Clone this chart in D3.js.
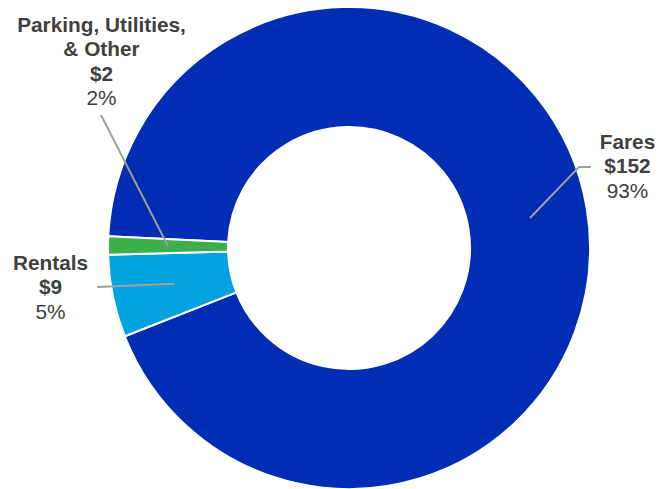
<!DOCTYPE html>
<html>
<head>
<meta charset="utf-8">
<script src="https://cdn.jsdelivr.net/npm/d3@7"></script>
<style>
  html, body { margin: 0; padding: 0; background: #fff; }
  svg { display: block; }
</style>
</head>
<body>
<svg id="chart" width="665" height="489"></svg>
<script>
// Revenue sources (millions of dollars)
const categories = ["Fares", "Rentals", "Parking, Utilities, & Other"];
const values = [152, 9, 2];
const percentLabels = ["93%", "5%", "2%"];
const colors = ["#002DB3", "#00A3DF", "#3DAF4A"];

// Label text lines for each slice (name lines, amount, share)
const nameLines = [["Fares"], ["Rentals"], ["Parking, Utilities,", "& Other"]];

const svg = d3.select("#chart");
const cx = 349, cy = 248;
const outerR = 241, innerR = 121;

const deg = Math.PI / 180;
const start = 272.8 * deg;

const pie = d3.pie()
  .sort(null)
  .value(d => d)
  .startAngle(start)
  .endAngle(start + 2 * Math.PI);

const arc = d3.arc().innerRadius(innerR).outerRadius(outerR);
const arcs = pie(values);

const g = svg.append("g").attr("transform", `translate(${cx},${cy})`);

g.selectAll("path.slice")
  .data(arcs)
  .join("path")
  .attr("class", "slice")
  .attr("d", arc)
  .attr("fill", (d, i) => colors[i])
  .attr("stroke", "#fff")
  .attr("stroke-width", 2)
  .attr("stroke-linejoin", "round");

// Leader lines: anchored inside each slice, running out to the label
function inside(d, r) {
  const a = (d.startAngle + d.endAngle) / 2;
  return [cx + r * Math.sin(a), cy - r * Math.cos(a)];
}

const leaders = [
  // Fares: from slice to elbow, then short horizontal tail
  (d) => [[530, 218], [579, 167], [591, 167]],
  (d) => [inside(d, 178), [97, 287]],
  (d) => [inside(d, 181), [101, 115]]
];

const line = d3.line();
svg.selectAll("path.leader")
  .data(arcs)
  .join("path")
  .attr("class", "leader")
  .attr("d", (d, i) => line(leaders[i](d)))
  .attr("fill", "none")
  .attr("stroke", "#a0a0a0")
  .attr("stroke-width", 2);

// Data labels
const labelPos = [
  { x: 627.5, y: 149 },
  { x: 50.5, y: 270 },
  { x: 101.5, y: 32 }
];
const lh = 24.3;

arcs.forEach((d, i) => {
  const t = svg.append("text")
    .attr("text-anchor", "middle")
    .attr("font-family", "'Liberation Sans', Arial, sans-serif")
    .attr("font-size", 20.8)
    .attr("fill", "#404040");
  const lines = nameLines[i].map(s => ({ s, bold: true }))
    .concat([{ s: "$" + values[i], bold: true }, { s: percentLabels[i], bold: false }]);
  lines.forEach((l, k) => {
    t.append("tspan")
      .attr("x", labelPos[i].x)
      .attr("y", labelPos[i].y + k * lh)
      .attr("font-weight", l.bold ? "bold" : "normal")
      .text(l.s);
  });
});
</script>
</body>
</html>
